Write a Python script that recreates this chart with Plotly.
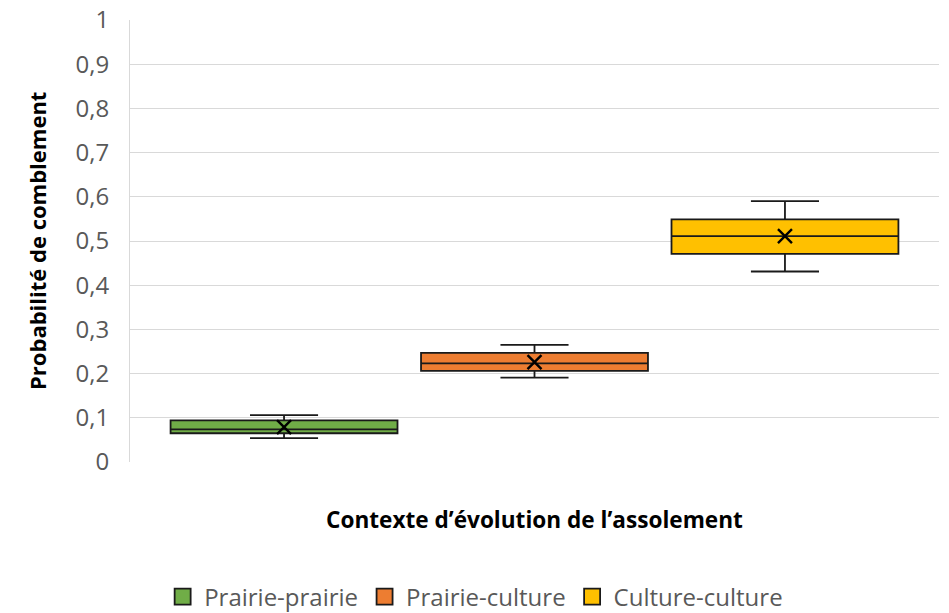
import plotly.graph_objects as go

categories = ["Prairie-prairie", "Prairie-culture", "Culture-culture"]
colors = ["#70AD47", "#ED7D31", "#FFC000"]
lower_whisker = [0.054, 0.191, 0.431]
q1_values = [0.065, 0.206, 0.471]
median_values = [0.074, 0.223, 0.511]
q3_values = [0.094, 0.247, 0.549]
upper_whisker = [0.106, 0.265, 0.590]
mean_values = [0.079, 0.226, 0.511]
y_ticks = [0, 0.1, 0.2, 0.3, 0.4, 0.5, 0.6, 0.7, 0.8, 0.9, 1]
y_title = "Probabilité de comblement"
x_title = "Contexte d’évolution de l’assolement"

fig = go.Figure()
for i, cat in enumerate(categories):
    fig.add_trace(go.Box(
        x=[cat], name=cat,
        q1=[q1_values[i]], median=[median_values[i]], q3=[q3_values[i]],
        lowerfence=[lower_whisker[i]], upperfence=[upper_whisker[i]],
        fillcolor=colors[i], line=dict(color="#1a1a1a", width=1.8),
        width=0.906, whiskerwidth=0.3, boxpoints=False,
        showlegend=False, hoverinfo="skip",
    ))
for i, cat in enumerate(categories):
    fig.add_trace(go.Scatter(
        x=[cat], y=[mean_values[i]], mode="markers",
        marker=dict(symbol="x-thin", size=14, color="#000000",
                    line=dict(color="#000000", width=2.4)),
        showlegend=False, hoverinfo="skip",
    ))
# legend entries (square swatches)
for i, cat in enumerate(categories):
    fig.add_trace(go.Scatter(
        x=[None], y=[None], mode="markers", name=cat,
        marker=dict(symbol="square", size=23, color=colors[i],
                    line=dict(color="#1a1a1a", width=1.8)),
        showlegend=True, hoverinfo="skip",
    ))

fig.update_layout(
    width=949, height=613,
    margin=dict(l=130, r=10, t=20, b=151),
    plot_bgcolor="white", paper_bgcolor="white",
    separators=", ",
    font=dict(family="Open Sans", color="#595959"),
    showlegend=True,
    legend=dict(orientation="h", x=0.426, xanchor="center",
                yref="container", y=0.0261, yanchor="middle",
                font=dict(size=24, color="#595959"), itemwidth=33,
                traceorder="normal"),
    xaxis=dict(type="category", categoryorder="array", categoryarray=categories,
               range=[-0.615, 2.615], showticklabels=False, showgrid=False,
               zeroline=False, showline=False, ticks="", automargin=False),
    yaxis=dict(range=[0, 1], tickvals=y_ticks, tickformat=".1~f",
               showgrid=True, gridcolor="#D9D9D9", gridwidth=1,
               showline=True, linecolor="#D9D9D9", linewidth=1,
               zeroline=False, ticks="", ticklabelstandoff=15, automargin=False,
               ticklabeloverflow="allow",
               tickfont=dict(size=24, color="#595959", family="Open Sans")),
    annotations=[
        dict(text=y_title, xref="paper", yref="paper", x=-0.115, y=0.5,
             xanchor="center", yanchor="middle", textangle=-90, showarrow=False,
             font=dict(size=22, color="#000000", family="Open Sans", weight="bold")),
        dict(text=x_title, xref="paper", yref="paper", x=0.5, y=-0.129,
             xanchor="center", yanchor="middle", showarrow=False,
             font=dict(size=22.6, color="#000000", family="Open Sans", weight="bold")),
    ],
)
fig.write_html("out.html", config={"displayModeBar": False},
               post_script="document.body.style.margin='0';")
